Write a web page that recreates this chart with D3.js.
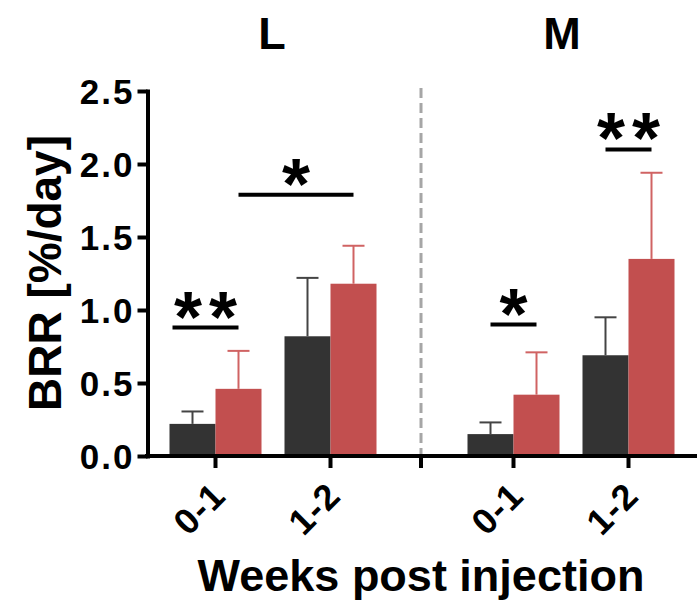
<!DOCTYPE html>
<html>
<head>
<meta charset="utf-8">
<script src="https://cdn.jsdelivr.net/npm/d3@7"></script>
<style>
  body { margin: 0; background: #fff; }
  text { font-family: "Liberation Sans", Arial, sans-serif; font-weight: bold; fill: #000; }
</style>
</head>
<body>
<svg id="chart"></svg>
<script>
// data
const panels = ['L', 'M'];
const weeks = ['0-1', '1-2'];
const groups = ['ctrl', 'trt'];

const lCtrlMean = [0.22, 0.82];
const lCtrlSd = [0.085, 0.40];
const lTrtMean = [0.46, 1.18];
const lTrtSd = [0.26, 0.26];
const mCtrlMean = [0.15, 0.69];
const mCtrlSd = [0.08, 0.26];
const mTrtMean = [0.42, 1.35];
const mTrtSd = [0.29, 0.59];

const yTicks = [0, 0.5, 1.0, 1.5, 2.0, 2.5];

// significance brackets
const sigPanel = ['L', 'L', 'M', 'M'];
const sigFrom = [['0-1', 'ctrl', 'left'], ['0-1', 'trt'], ['0-1', 'ctrl'], ['1-2', 'ctrl']];
const sigTo = [['0-1', 'trt'], ['1-2', 'trt'], ['0-1', 'trt'], ['1-2', 'trt']];
const sigLevel = [0.88, 1.79, 0.90, 2.10];
const sigLabel = ['**', '*', '*', '**'];

const barData = [];
const series = {
  L: { ctrl: [lCtrlMean, lCtrlSd], trt: [lTrtMean, lTrtSd] },
  M: { ctrl: [mCtrlMean, mCtrlSd], trt: [mTrtMean, mTrtSd] },
};
panels.forEach(p => {
  groups.forEach(g => {
    weeks.forEach((w, i) => {
      barData.push({ panel: p, group: g, week: w, mean: series[p][g][0][i], sd: series[p][g][1][i] });
    });
  });
});

const width = 697, height = 601;
const colors = { ctrl: '#333333', trt: '#c24f4f' };
const errColors = { ctrl: '#444444', trt: '#d06363' };

const svg = d3.select('#chart').attr('width', width).attr('height', height);

const axisX = 147.5;
const y = d3.scaleLinear().domain([0, 2.5]).range([456, 91]);

// one band scale per panel
const panelRange = { L: [158, 388], M: [456, 686] };
const xb = {};
panels.forEach(p => {
  xb[p] = d3.scaleBand().domain(weeks).range(panelRange[p]).paddingInner(0.2).paddingOuter(0.1);
});
const sub = d3.scaleBand().domain(groups).range([0, xb.L.bandwidth()]);
const barCenter = (p, w, g) => xb[p](w) + sub(g) + sub.bandwidth() / 2;
const barPos = (p, ref) => ref[2] === 'left' ? xb[p](ref[0]) + sub(ref[1]) + 3 : barCenter(p, ref[0], ref[1]);

// divider between panels
const dividerX = 421;
svg.append('line')
  .attr('x1', dividerX).attr('x2', dividerX)
  .attr('y1', 88).attr('y2', 458)
  .attr('stroke', '#a6a6a6').attr('stroke-width', 3)
  .attr('stroke-dasharray', '10,5');

// bars
svg.append('g').selectAll('rect')
  .data(barData)
  .join('rect')
  .attr('x', d => xb[d.panel](d.week) + sub(d.group))
  .attr('y', d => y(d.mean))
  .attr('width', sub.bandwidth())
  .attr('height', d => y(0) - y(d.mean))
  .attr('fill', d => colors[d.group]);

// error bars (upper only)
const err = svg.append('g').selectAll('g')
  .data(barData)
  .join('g')
  .attr('stroke', d => errColors[d.group])
  .attr('stroke-width', 2);
err.append('line')
  .attr('x1', d => barCenter(d.panel, d.week, d.group))
  .attr('x2', d => barCenter(d.panel, d.week, d.group))
  .attr('y1', d => y(d.mean))
  .attr('y2', d => y(d.mean + d.sd));
err.append('line')
  .attr('x1', d => barCenter(d.panel, d.week, d.group) - 11)
  .attr('x2', d => barCenter(d.panel, d.week, d.group) + 11)
  .attr('y1', d => y(d.mean + d.sd))
  .attr('y2', d => y(d.mean + d.sd));

// y axis
const yAxis = svg.append('g')
  .attr('transform', `translate(${axisX},0)`)
  .call(d3.axisLeft(y).tickValues(yTicks).tickFormat(d3.format('.1f')).tickSize(10).tickSizeOuter(0).tickPadding(3));
yAxis.select('.domain').attr('stroke-width', 4).attr('stroke-linecap', 'square');
yAxis.selectAll('.tick line').attr('stroke-width', 4);
yAxis.selectAll('.tick text')
  .style('font-size', '35px')
  .style('letter-spacing', '2px')
  .attr('dy', '0.36em');

// x axis baseline
svg.append('line')
  .attr('x1', 145).attr('x2', width)
  .attr('y1', y(0)).attr('y2', y(0))
  .attr('stroke', '#000').attr('stroke-width', 4);

// x axes per panel
panels.forEach(p => {
  const ax = svg.append('g')
    .attr('transform', `translate(0,${y(0)})`)
    .call(d3.axisBottom(xb[p]).tickSize(12).tickSizeOuter(0));
  ax.select('.domain').remove();
  ax.selectAll('.tick line').attr('stroke-width', 4);
  ax.selectAll('.tick text')
    .attr('y', 0).attr('dy', 0)
    .attr('text-anchor', 'end')
    .attr('transform', 'translate(12,42) rotate(-45)')
    .style('font-size', '36px')
    .style('letter-spacing', '1px');
});

// tick under the divider
svg.append('line')
  .attr('x1', dividerX).attr('x2', dividerX)
  .attr('y1', y(0)).attr('y2', y(0) + 12)
  .attr('stroke', '#000').attr('stroke-width', 4);

// significance lines and stars
sigLabel.forEach((lab, i) => {
  const p = sigPanel[i];
  const x1 = barPos(p, sigFrom[i]);
  const x2 = barPos(p, sigTo[i]);
  const ly = y(sigLevel[i]);
  svg.append('line')
    .attr('x1', x1).attr('x2', x2)
    .attr('y1', ly).attr('y2', ly)
    .attr('stroke', '#000').attr('stroke-width', 4);
  const n = lab.length;
  const cx = (x1 + x2) / 2;
  for (let k = 0; k < n; k++) {
    svg.append('text')
      .attr('x', cx + (k - (n - 1) / 2) * 35)
      .attr('y', ly + 14)
      .attr('text-anchor', 'middle')
      .style('font-size', '72px')
      .text('*');
  }
});

// panel titles
const panelTitleX = { L: 272, M: 562 };
svg.selectAll('.panel-title')
  .data(panels)
  .join('text')
  .attr('class', 'panel-title')
  .attr('x', d => panelTitleX[d])
  .attr('y', 49)
  .attr('text-anchor', 'middle')
  .style('font-size', '45px')
  .text(d => d);

// axis titles
svg.append('text')
  .attr('transform', 'translate(61,273) rotate(-90)')
  .attr('text-anchor', 'middle')
  .style('font-size', '46px')
  .text('BRR [%/day]');

svg.append('text')
  .attr('x', dividerX)
  .attr('y', 591)
  .attr('text-anchor', 'middle')
  .style('font-size', '45px')
  .text('Weeks post injection');
</script>
</body>
</html>
